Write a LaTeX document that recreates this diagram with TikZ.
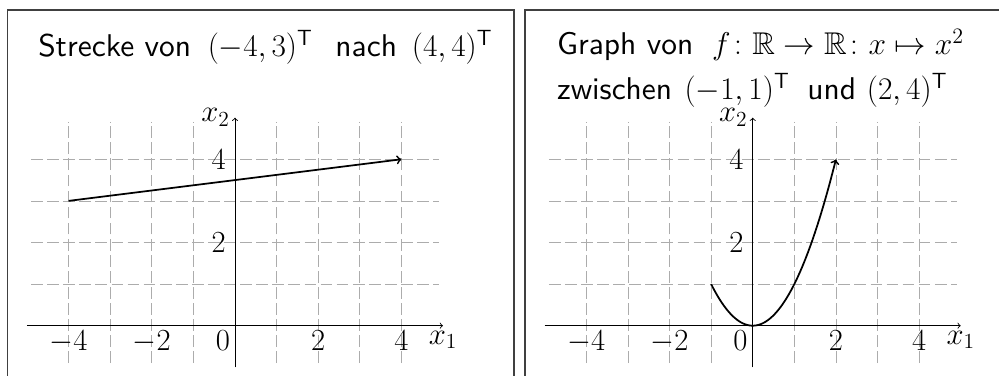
\RequirePackage{fix-cm}
\documentclass[tikz,border=0pt]{standalone}
\usepackage{amsmath}
\usepackage{amssymb}
\usepackage{fontspec}
\usepackage{tikz}

\newfontfamily\titelschrift{lmsans10-regular}[Extension=.otf]
\newcommand{\vek}[1]{{\fontsize{21.5}{26}\selectfont\(#1\)}}

\tikzset{
    gitter/.style={gray!65,dash pattern=on 8pt off 3pt,line width=0.5pt},
    achse/.style={->,line width=0.6pt},
    kurve/.style={->,line width=1.2pt},
    rahmen/.style={draw=black!75,line width=0.9pt},
    titel/.style={anchor=base west,inner sep=0pt,font=\fontsize{21.5}{26}\titelschrift},
    every node/.style={font=\fontsize{21}{25}\selectfont}
}

\begin{document}
\begin{tikzpicture}
            \useasboundingbox (-5.649,-1.209) rectangle (18.365,7.829);

            % Rahmen
            \draw[rahmen] (-5.469,-1.5) -- (-5.469,7.589) -- (6.707,7.589) -- (6.707,-1.5);
            \draw[rahmen] (6.971,-1.5) -- (6.971,7.589) -- (18.6,7.589);

            % links: Strecke
            \begin{scope}
                \draw[gitter] (-4.9,-0.9) grid (4.9,4.9);
                \draw[achse] (-5,0) -- (5,0) node[below] (xa) {\(x_1\)};
                \draw[achse] (0,-1) -- (0,5) node[left] (ya) {\(x_2\)};

                \foreach \t in {-4,-2,2,4}{
                    \node[below] (xt\t) at (\t,0) {\(\t\)};
                }
                \node[below left] (null) at (0,0) {\(0\)};
                \node[left] (yt2) at (-0.1,2) {\(2\)};
                \node[left] (yt4) at (-0.1,4) {\(4\)};

                \coordinate (a) at (-4,3);
                \coordinate (b) at (4,4);
                \draw[kurve] (a) -- (b);

                \node[titel] (titel) at (-4.736,6.466)
                    {Strecke von\hspace{0.4cm}\vek{(-4,3)^{\mathsf{T}}}\hspace{0.55cm}nach\hspace{0.36cm}\vek{(4,4)^{\mathsf{T}}}};
            \end{scope}

            % rechts: Parabel
            \begin{scope}[xshift=12.445cm]
                \draw[gitter] (-4.9,-0.9) grid (4.9,4.9);
                \draw[achse] (-5,0) -- (5,0) node[below] (xb) {\(x_1\)};
                \draw[achse] (0,-1) -- (0,5) node[left] (yb) {\(x_2\)};

                \foreach \t in {-4,-2,2,4}{
                    \node[below] (xs\t) at (\t,0) {\(\t\)};
                }
                \node[below left] (nullb) at (0,0) {\(0\)};
                \node[left] (ys2) at (-0.1,2) {\(2\)};
                \node[left] (ys4) at (-0.1,4) {\(4\)};

                \draw[kurve] plot[domain=-1:2,samples=60,smooth] (\x,{\x*\x});

                \node[titel] (titela) at (-4.71,6.51)
                    {Graph von\hspace{0.45cm}\vek{f\colon \mathbb{R}\to\mathbb{R}\colon x\mapsto x^2}};
                \node[titel] (titelb) at (-4.71,5.425)
                    {zwischen\hspace{0.3cm}\vek{(-1,1)^{\mathsf{T}}}\hspace{0.43cm}und\hspace{0.26cm}\vek{(2,4)^{\mathsf{T}}}};
            \end{scope}
        \end{tikzpicture}
\end{document}
